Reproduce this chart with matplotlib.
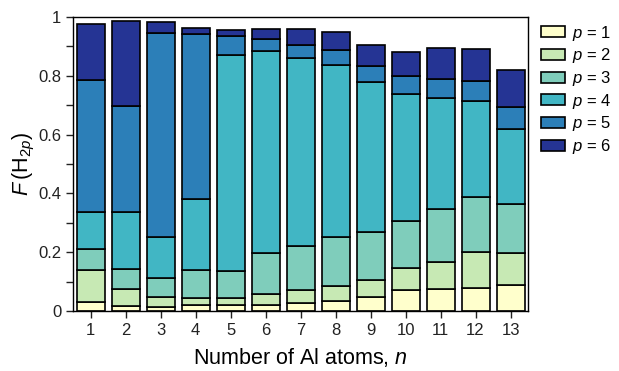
import numpy as np
import matplotlib
matplotlib.use("Agg")
from matplotlib import pyplot as plt
from matplotlib.ticker import MultipleLocator

plt.rcParams['font.family'] = ['Liberation Sans', 'DejaVu Sans']
plt.rcParams['mathtext.fontset'] = 'custom'
plt.rcParams['mathtext.rm'] = 'Liberation Sans'
plt.rcParams['mathtext.it'] = 'Liberation Sans:italic'

# number of Al atoms
n = np.arange(1, 14)

# cumulative heights (top of p = 1 ... p = 6)
cum_p1 = [0.031, 0.016, 0.014, 0.020, 0.019, 0.021, 0.028, 0.034, 0.049, 0.071, 0.076, 0.078, 0.089]
cum_p2 = [0.140, 0.075, 0.046, 0.045, 0.044, 0.059, 0.070, 0.084, 0.106, 0.146, 0.165, 0.200, 0.197]
cum_p3 = [0.211, 0.141, 0.113, 0.139, 0.137, 0.198, 0.221, 0.253, 0.269, 0.305, 0.347, 0.389, 0.364]
cum_p4 = [0.337, 0.337, 0.251, 0.380, 0.871, 0.886, 0.861, 0.837, 0.780, 0.738, 0.725, 0.713, 0.618]
cum_p5 = [0.787, 0.697, 0.947, 0.942, 0.934, 0.925, 0.904, 0.887, 0.833, 0.799, 0.789, 0.781, 0.695]
cum_p6 = [0.977, 0.986, 0.983, 0.963, 0.957, 0.958, 0.960, 0.948, 0.905, 0.882, 0.894, 0.890, 0.819]

cum = np.array([cum_p1, cum_p2, cum_p3, cum_p4, cum_p5, cum_p6])
fractions = np.diff(np.vstack([np.zeros(len(n)), cum]), axis=0)

colors = ["#ffffcc", "#c7e9b4", "#7fcdbb", "#41b6c4", "#2c7fb8", "#253494"]
labels = [r"$p$ = %d" % (i + 1) for i in range(6)]

fig = plt.figure(figsize=(6.19, 3.71), dpi=100)
ax = fig.add_axes([0.118, 0.162, 0.735, 0.792])

bottom = np.zeros(len(n))
for frac, col, lab in zip(fractions, colors, labels):
    ax.bar(n, frac, bottom=bottom, width=0.8, color=col, edgecolor="black",
           linewidth=1.2, label=lab)
    bottom += frac

ax.set_xlim(0.5, 13.5)
ax.set_ylim(0, 1)
ax.set_xticks(n)
ax.set_yticks(np.arange(0, 1.01, 0.2))
ax.set_yticklabels(["0", "0.2", "0.4", "0.6", "0.8", "1"])
ax.yaxis.set_minor_locator(MultipleLocator(0.1))
ax.tick_params(which="both", direction="out", labelsize=12, width=1, length=5,
               colors="#222222")
for s in ax.spines.values():
    s.set_linewidth(1)

ax.set_xlabel(r"Number of Al atoms, $n$", fontsize=15.5, labelpad=6)
ax.set_ylabel(r"$F\,$(H$_{2p}$)", fontsize=15.5, labelpad=1)

ax.legend(loc="upper left", bbox_to_anchor=(1.015, 1.0), frameon=False,
          borderaxespad=0, fontsize=12, handlelength=1.4, handleheight=0.65,
          labelspacing=0.22, handletextpad=0.45)

fig.savefig("out.png", dpi=100)
